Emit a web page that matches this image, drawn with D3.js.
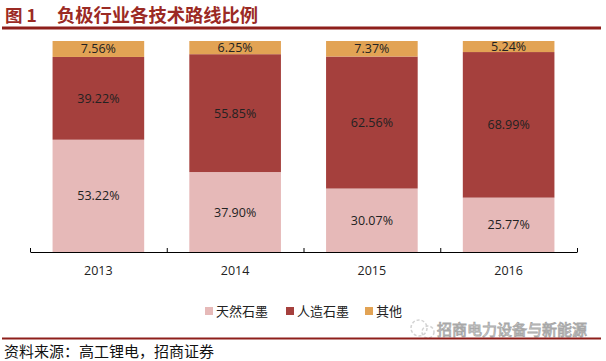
<!DOCTYPE html>
<html><head><meta charset="utf-8">
<script src="https://cdn.jsdelivr.net/npm/d3@7"></script>
<style>body{margin:0;background:#fff}svg{display:block}</style>
</head><body>
<script>
const years = ["2013","2014","2015","2016"];
const seriesNames = ["天然石墨","人造石墨","其他"];
const natural = [53.22, 37.90, 30.07, 25.77];
const artificial = [39.22, 55.85, 62.56, 68.99];
const other = [7.56, 6.25, 7.37, 5.24];
const colors = ["#E6B9B8", "#A5403D", "#E2A354"];

const W = 606, H = 361;
const svg = d3.select("body").append("svg").attr("width", W).attr("height", H);

// title
const titleColor = "#9B2A24";
svg.append("text").attr("x", 5).attr("y", 22)
  .attr("font-family", "Noto Sans CJK SC").attr("font-weight", "bold")
  .attr("font-size", 17.5).attr("fill", titleColor).text("图 1");
svg.append("text").attr("x", 57).attr("y", 22)
  .attr("font-family", "Noto Sans CJK SC").attr("font-weight", "bold")
  .attr("font-size", 18.3).attr("fill", titleColor).text("负极行业各技术路线比例");
svg.append("rect").attr("x", 2).attr("y", 26.5).attr("width", 599).attr("height", 3).attr("fill", "#8E1F1B");

const x = d3.scaleBand().domain(years).range([30, 577]).paddingInner(0.33).paddingOuter(0.165);
const y = d3.scaleLinear().domain([0, 100]).range([252, 41]);

const rows = years.map((yr, i) => ({year: yr, "天然石墨": natural[i], "人造石墨": artificial[i], "其他": other[i]}));
const stacked = d3.stack().keys(seriesNames)(rows);

const g = svg.append("g");
stacked.forEach((s, si) => {
  g.selectAll(null).data(s).enter().append("rect")
    .attr("x", d => x(d.data.year)).attr("width", x.bandwidth())
    .attr("y", d => y(d[1])).attr("height", d => y(d[0]) - y(d[1]))
    .attr("fill", colors[si]);
  g.selectAll(null).data(s).enter().append("text")
    .attr("x", d => x(d.data.year) + x.bandwidth() / 2)
    .attr("y", d => (y(d[0]) + y(d[1])) / 2)
    .attr("dy", "0.36em").attr("text-anchor", "middle")
    .attr("font-family", "Open Sans, sans-serif").attr("font-size", 12.5)
    .attr("fill", "#222")
    .text(d => (d[1] - d[0]).toFixed(2) + "%");
});

// axis
const xAxisScale = d3.scaleLinear().domain([0, years.length]).range([30, 577]);
const ax = svg.append("g").attr("transform", "translate(0,252)");
ax.call(d3.axisBottom(xAxisScale).ticks(years.length).tickSizeInner(-4).tickSizeOuter(0).tickFormat(""));
ax.select(".domain").attr("stroke", "#000").attr("stroke-width", 1.2);
ax.selectAll(".tick line").attr("stroke", "#000");
years.forEach(yr => {
  svg.append("text").attr("x", x(yr) + x.bandwidth() / 2).attr("y", 270).attr("dy", "0.36em")
    .attr("text-anchor", "middle").attr("font-family", "Open Sans, sans-serif").attr("font-size", 12.5)
    .attr("fill", "#222").text(yr);
});

// legend
const legendItems = [{x: 205, t: 0}, {x: 286, t: 1}, {x: 365, t: 2}];
legendItems.forEach(it => {
  svg.append("rect").attr("x", it.x).attr("y", 307).attr("width", 8).attr("height", 8).attr("fill", colors[it.t]);
  svg.append("text").attr("x", it.x + 11).attr("y", 311).attr("dy", "0.36em")
    .attr("font-family", "Noto Sans CJK SC").attr("font-size", 13).attr("fill", "#222")
    .text(seriesNames[it.t]);
});

// watermark
const wm = svg.append("g").attr("opacity", 0.85);
wm.append("circle").attr("cx", 419).attr("cy", 328).attr("r", 8).attr("fill", "none")
  .attr("stroke", "#ccc").attr("stroke-width", 1.5).attr("stroke-dasharray", "3,2");
wm.append("circle").attr("cx", 428).attr("cy", 332).attr("r", 6).attr("fill", "none")
  .attr("stroke", "#ccc").attr("stroke-width", 1.5).attr("stroke-dasharray", "3,2");
wm.append("text").attr("x", 437).attr("y", 330).attr("dy", "0.36em")
  .attr("font-family", "Noto Sans CJK SC").attr("font-size", 15)
  .attr("fill", "#fff").attr("stroke", "#999").attr("stroke-width", 0.9)
  .text("招商电力设备与新能源");

// bottom rule & source
svg.append("rect").attr("x", 2).attr("y", 337.5).attr("width", 599).attr("height", 2).attr("fill", "#8E1F1B");
svg.append("text").attr("x", 4).attr("y", 352).attr("dy", "0.36em")
  .attr("font-family", "Noto Sans CJK SC").attr("font-size", 15).attr("fill", "#111")
  .text("资料来源：高工锂电，招商证券");
</script>
</body></html>
